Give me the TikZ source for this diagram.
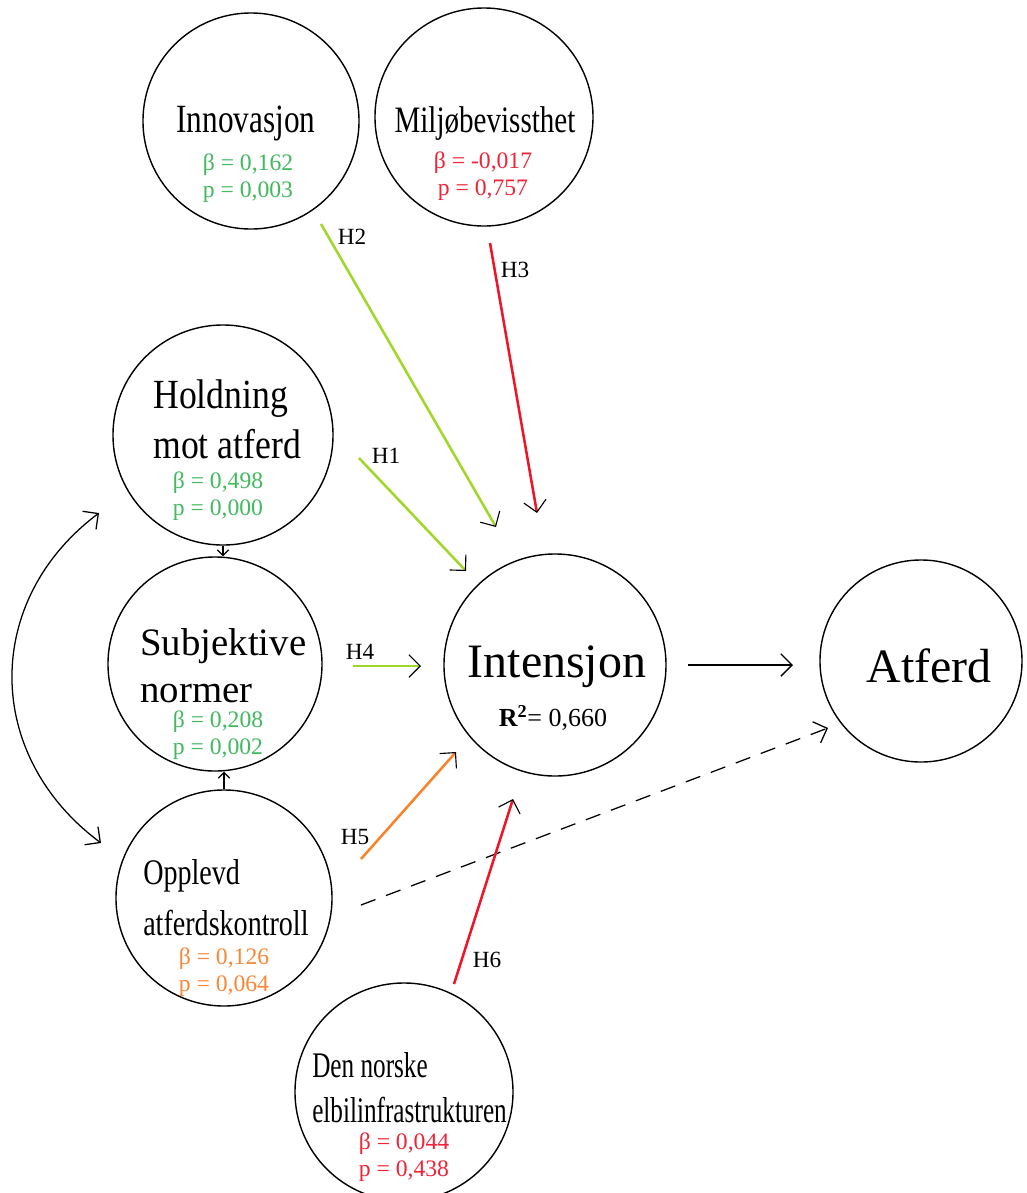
\documentclass[tikz,border=0pt]{standalone}
\usepackage{fontspec}
\setmainfont{Liberation Serif}
\newfontfamily\narrowFont[FakeStretch=0.78]{Liberation Serif}
\newfontfamily\tightFont[FakeStretch=0.7]{Liberation Serif}
\newfontfamily\slimFont[FakeStretch=0.86]{Liberation Serif}
\usepackage{tikz}
\usetikzlibrary{arrows.meta}
\tikzstyle{diagram} = [x = 0.025cm, y = -0.025cm]
\definecolor{statGreen}{RGB}{65,185,95}
\definecolor{statRed}{RGB}{240,35,55}
\definecolor{statOrange}{RGB}{250,135,55}
\definecolor{lineGreen}{RGB}{160,215,40}
\definecolor{lineRed}{RGB}{240,20,40}
\definecolor{lineOrange}{RGB}{250,130,40}
\newcommand{\fontAt}[1]{\fontsize{#1}{#1}\selectfont}
\tikzstyle{constructStyle} = [draw, circle, line width = 1pt, inner sep = 0pt]
\tikzstyle{titleText} = [anchor = base, inner sep = 0pt]
\tikzstyle{titleLeft} = [anchor = base west, inner sep = 0pt]
\tikzstyle{statText} = [anchor = base, inner sep = 0pt, font = \fontAt{16.8}]
\tikzstyle{hypothesisText} = [inner sep = 0pt, font = \fontAt{16.5}]
\tikzstyle{hypothesisArrow} = [line width = 1.8pt, -{Straight Barb[length = 8pt, width = 16pt, color = black, line width = 0.8pt]}]
\tikzstyle{blackArrow} = [line width = 0.9pt, -{Straight Barb[length = 8pt, width = 16pt]}]
\tikzstyle{smallArrow} = [line width = 0.8pt, -{Straight Barb[length = 4pt, width = 8pt]}]
\newcommand{\construct}[4]{\node [constructStyle, minimum size = #4 cm] (#1) at (#2, #3) {};}
\newcommand{\statLines}[6]{
  \node [statText, text = #4] (#1Beta) at (#2, #3) {β = #5};
  \node [statText, text = #4] (#1P) at (#2, #3 + 27) {p = #6};
}
\newcommand{\hypothesis}[6]{
  \coordinate (#1Start) at (#3);
  \coordinate (#1End) at (#4);
  \draw [hypothesisArrow, color = #2] (#1Start) -- (#1End);
  \node [hypothesisText] (#1Label) at (#6) {#5};
}

\begin{document}
\begin{tikzpicture}[diagram]
  \clip (0,0) rectangle (1027,1193);
  \fill [white] (0,0) rectangle (1027,1193);

  \construct{innovasjon}{251}{121}{5.4}
  \construct{miljo}{484}{117}{5.45}
  \construct{holdning}{223}{435}{5.5}
  \construct{subjektive}{215}{664}{5.35}
  \construct{opplevd}{224}{898}{5.4}
  \construct{infrastruktur}{404}{1092}{5.45}
  \construct{intensjon}{555}{665}{5.55}
  \construct{atferd}{921}{661}{5.05}

  \node [titleText, font = \narrowFont\fontAt{28.5}] (innovasjonTitle) at (246,132) {Innovasjon};
  \statLines{innovasjon}{248}{170}{statGreen}{0,162}{0,003}
  \node [titleText, font = \narrowFont\fontAt{26.5}] (miljoTitle) at (485,132) {Miljøbevissthet};
  \statLines{miljo}{483}{168}{statRed}{-0,017}{0,757}

  \node [titleLeft, font = \slimFont\fontAt{29.5}] (holdningTitle) at (153,408) {Holdning};
  \node [titleLeft, font = \slimFont\fontAt{29.5}] (holdningTitleTwo) at (153,458) {mot atferd};
  \statLines{holdning}{218}{488}{statGreen}{0,498}{0,000}

  \node [titleLeft, font = \fontAt{27.6}] (subjektiveTitle) at (140,655) {Subjektive};
  \node [titleLeft, font = \fontAt{27.6}] (subjektiveTitleTwo) at (140,702) {normer};
  \statLines{subjektive}{218}{727}{statGreen}{0,208}{0,002}

  \node [titleLeft, font = \narrowFont\fontAt{25.6}] (opplevdTitle) at (143,884) {Opplevd};
  \node [titleLeft, font = \narrowFont\fontAt{25.6}] (opplevdTitleTwo) at (143,935) {atferdskontroll};
  \statLines{opplevd}{224}{964}{statOrange}{0,126}{0,064}

  \node [titleLeft, font = \tightFont\fontAt{25.6}] (infrastrukturTitle) at (312,1077) {Den norske};
  \node [titleLeft, font = \tightFont\fontAt{25.6}] (infrastrukturTitleTwo) at (312,1122) {elbilinfrastrukturen};
  \statLines{infrastruktur}{404}{1149}{statRed}{0,044}{0,438}

  \node [titleText, font = \fontAt{34.1}] (intensjonTitle) at (557,677) {Intensjon};
  \node [titleText, font = \fontAt{18.5}] (intensjonR) at (553,726) {\textbf{R\textsuperscript{2}}= 0,660};
  \node [titleText, font = \fontAt{34.1}] (atferdTitle) at (929,682) {Atferd};

  \draw [smallArrow] (holdning.south) -- (holdning.south |- subjektive.north);
  \draw [smallArrow] (opplevd.north) -- (opplevd.north |- subjektive.south);

  \coordinate (curveTop) at (99,513);
  \coordinate (curveBottom) at (101,843);
  \draw [line width = 0.9pt, {Straight Barb[length = 8pt, width = 16pt]}-{Straight Barb[length = 8pt, width = 16pt]}]
    (curveTop) .. controls (-17,600) and (-17,755) .. (curveBottom);

  \coordinate (intentStart) at (688,665);
  \coordinate (intentEnd) at (793,665);
  \draw [blackArrow] (intentStart) -- (intentEnd);

  \coordinate (controlStart) at (361,905);
  \coordinate (controlEnd) at (828,728);
  \draw [blackArrow, dash pattern = on 11pt off 8pt] (controlStart) -- (controlEnd);

  \hypothesis{h2}{lineGreen}{321,224}{496,527}{H2}{352,237}
  \hypothesis{h3}{lineRed}{490,243}{537,513}{H3}{515,270}
  \hypothesis{h1}{lineGreen}{359,458}{466,571}{H1}{386,456}
  \hypothesis{h4}{lineGreen}{353,666}{421,666}{H4}{360,652}
  \hypothesis{h5}{lineOrange}{361,859}{456,752}{H5}{355,837}
  \hypothesis{h6}{lineRed}{454,984}{513,799}{H6}{487,960}
\end{tikzpicture}
\end{document}
